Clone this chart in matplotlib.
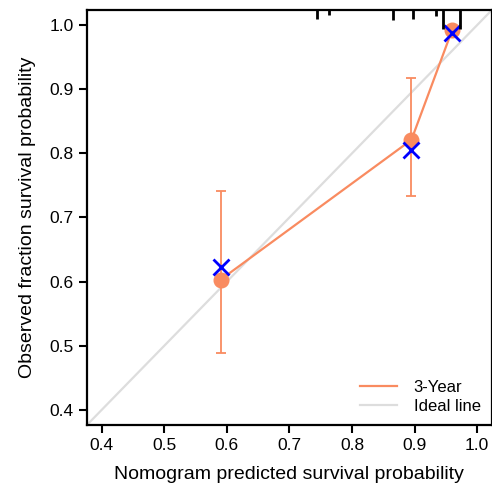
import matplotlib
matplotlib.use("Agg")
import matplotlib.pyplot as plt
import numpy as np

plt.rcParams['font.family'] = ['Liberation Sans', 'DejaVu Sans']

# Data
pred = [0.590, 0.895, 0.960]
observed = [0.603, 0.821, 0.992]
ci_low = [0.489, 0.734, 0.992]
ci_high = [0.741, 0.918, 0.992]
corrected = [0.623, 0.805, 0.987]
rug_x = [0.744, 0.764, 0.865, 0.897, 0.934, 0.946, 0.972]
rug_freq = [0.45, 0.25, 0.5, 0.45, 0.3, 1.0, 1.0]
ticks = [0.4, 0.5, 0.6, 0.7, 0.8, 0.9, 1.0]
tick_labels = ["0.4", "0.5", "0.6", "0.7", "0.8", "0.9", "1.0"]
series_name = "3-Year"
ideal_name = "Ideal line"

orange = "#F98B60"
gray = "#DDDDDD"

fig = plt.figure(figsize=(4.92, 4.94), dpi=100)
ax = fig.add_axes([0.177, 0.140, 0.822, 0.839])

ax.plot([0, 1.1], [0, 1.1], color=gray, lw=1.6, label=ideal_name, zorder=1)

yerr = [np.array(observed) - np.array(ci_low), np.array(ci_high) - np.array(observed)]
ax.errorbar(pred, observed, yerr=yerr, fmt='none', ecolor=orange, elinewidth=1.3,
            capsize=3.5, capthick=1.3, zorder=2)
ax.plot(pred, observed, color=orange, lw=1.6, label=series_name, zorder=3)
ax.plot(pred, observed, 'o', color=orange, ms=10.5, zorder=4)
ax.plot(pred, corrected, 'x', color='#0000FF', ms=12, mew=2, zorder=5)

# rug at top
for xv, f in zip(rug_x, rug_freq):
    ax.plot([xv, xv], [1.0, 1.0 - 0.045 * f], transform=ax.get_xaxis_transform(),
            color='black', lw=2.0, clip_on=False, solid_capstyle='butt', zorder=6)

ax.set_xlim(0.3766, 1.023)
ax.set_ylim(0.3766, 1.023)
ax.set_xticks(ticks)
ax.set_xticklabels(tick_labels)
ax.set_yticks(ticks)
ax.set_yticklabels(tick_labels)
ax.tick_params(direction='out', length=6, width=1.5, labelsize=12.5, colors='black')
for s in ax.spines.values():
    s.set_linewidth(1.6)

ax.set_xlabel("Nomogram predicted survival probability", fontsize=14, labelpad=9)
ax.set_ylabel("Observed fraction survival probability", fontsize=14, labelpad=10)

h, l = ax.get_legend_handles_labels()
ax.legend([h[1], h[0]], [l[1], l[0]], loc='lower right', frameon=False, fontsize=12,
          handlelength=2.2, handletextpad=1.0, labelspacing=0.25,
          bbox_to_anchor=(1.01, -0.01))

fig.savefig("out.png", dpi=100)
